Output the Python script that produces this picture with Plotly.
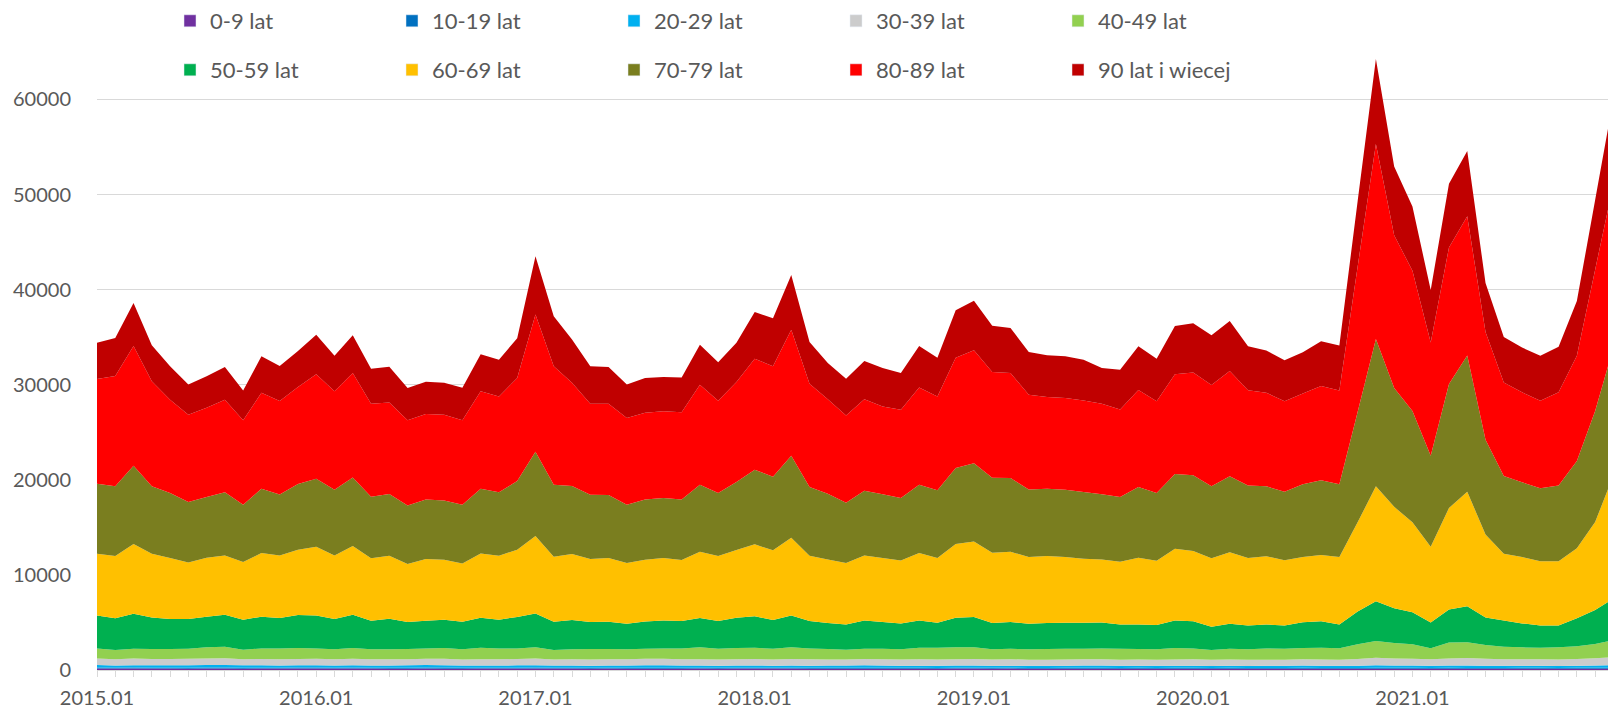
import plotly.graph_objects as go

# ---------------- data ----------------
months = [f"{y}.{m:02d}" for y in range(2015, 2022) for m in range(1, 13)]

names = ["0-9 lat", "10-19 lat", "20-29 lat", "30-39 lat", "40-49 lat",
         "50-59 lat", "60-69 lat", "70-79 lat", "80-89 lat", "90 lat i wiecej"]
colors = ["#7030A0", "#0070C0", "#00B0F0", "#CCCCCC", "#92D050",
          "#00B050", "#FFC000", "#7A7E1F", "#FF0000", "#C00000"]

s0_9 = [170, 155, 160, 150, 145, 140, 150, 145, 140, 150, 145, 155,
        165, 150, 160, 145, 140, 140, 145, 140, 135, 150, 145, 155,
        160, 150, 150, 140, 145, 135, 140, 140, 135, 145, 140, 150,
        155, 145, 150, 140, 135, 130, 140, 135, 130, 140, 135, 145,
        150, 140, 145, 135, 130, 130, 135, 130, 125, 135, 130, 140,
        140, 135, 140, 130, 125, 120, 130, 125, 125, 130, 140, 135,
        135, 130, 135, 130, 125, 125, 130, 125, 120, 130, 135, 140]
s10_19 = [95, 90, 100, 95, 100, 105, 110, 115, 100, 95, 90, 95,
          90, 85, 95, 90, 100, 100, 110, 110, 95, 90, 90, 90,
          95, 90, 90, 85, 95, 100, 105, 105, 95, 90, 85, 90,
          90, 85, 90, 90, 95, 95, 105, 100, 95, 90, 85, 90,
          85, 85, 90, 85, 90, 95, 100, 100, 90, 90, 85, 85,
          90, 80, 85, 85, 90, 95, 100, 95, 90, 90, 100, 95,
          90, 85, 90, 90, 95, 95, 100, 100, 90, 95, 100, 105]
s20_29 = [260, 240, 250, 245, 250, 255, 270, 275, 250, 245, 240, 245,
          250, 235, 245, 240, 245, 250, 265, 260, 240, 240, 235, 245,
          250, 230, 240, 235, 240, 245, 255, 255, 240, 235, 230, 235,
          240, 225, 235, 230, 235, 240, 250, 245, 230, 230, 225, 230,
          230, 220, 225, 220, 225, 230, 240, 240, 225, 225, 220, 225,
          225, 215, 225, 215, 220, 225, 235, 230, 220, 235, 260, 245,
          240, 225, 245, 250, 230, 225, 230, 230, 220, 230, 250, 265]
s30_39 = [680, 650, 690, 660, 660, 670, 690, 700, 650, 660, 650, 670,
          690, 650, 680, 650, 650, 650, 670, 670, 640, 660, 650, 670,
          700, 640, 660, 640, 650, 650, 670, 670, 650, 660, 640, 660,
          680, 650, 670, 660, 650, 640, 660, 650, 640, 660, 650, 670,
          680, 650, 670, 650, 640, 640, 660, 650, 630, 650, 640, 660,
          670, 640, 660, 640, 640, 640, 660, 650, 640, 700, 780, 740,
          720, 680, 750, 780, 720, 690, 680, 680, 680, 700, 760, 820]
s40_49 = [1065, 965, 1040, 1050, 1045, 1070, 1160, 1215, 990, 1120, 1145, 1145,
          1075, 1050, 1130, 1045, 1035, 1060, 1080, 1130, 1060, 1200, 1150, 1110,
          1175, 990, 1030, 1100, 1070, 1040, 1070, 1100, 1150, 1250, 1145, 1175,
          1175, 1135, 1235, 1150, 1085, 1025, 1085, 1110, 1075, 1220, 1245, 1245,
          1235, 1075, 1110, 1080, 1115, 1145, 1105, 1150, 1170, 1100, 1095, 1200,
          1145, 1030, 1130, 1100, 1195, 1160, 1185, 1240, 1205, 1555, 1770, 1625,
          1525, 1160, 1660, 1670, 1450, 1315, 1240, 1205, 1270, 1335, 1485, 1820]
s50_59 = [3470, 3330, 3680, 3330, 3160, 3120, 3220, 3360, 3160, 3330, 3190, 3470,
          3470, 3190, 3500, 3010, 3220, 2840, 2910, 2980, 2910, 3160, 3020, 3300,
          3570, 2980, 3080, 2840, 2880, 2690, 2870, 2940, 2870, 3080, 2900, 3180,
          3300, 3010, 3360, 2870, 2730, 2660, 2970, 2800, 2730, 2870, 2620, 3110,
          3180, 2760, 2800, 2690, 2730, 2720, 2720, 2730, 2550, 2590, 2560, 2900,
          2850, 2460, 2620, 2520, 2510, 2450, 2720, 2780, 2500, 3440, 4180, 3650,
          3350, 2710, 3490, 3790, 2890, 2760, 2520, 2350, 2310, 2940, 3570, 4370]
s60_69 = [6490, 6550, 7320, 6700, 6410, 5950, 6200, 6240, 6060, 6700, 6590, 6870,
          7220, 6690, 7220, 6560, 6630, 6100, 6480, 6300, 6130, 6760, 6730, 7080,
          8130, 6830, 6940, 6620, 6690, 6380, 6480, 6560, 6420, 6970, 6840, 7120,
          7570, 7330, 8170, 6880, 6700, 6450, 6840, 6730, 6620, 7090, 6810, 7750,
          7960, 7400, 7390, 7020, 7050, 6920, 6740, 6630, 6590, 7010, 6760, 7530,
          7400, 7180, 7530, 7100, 7180, 6840, 6840, 6970, 7090, 9380, 12080, 10670,
          9470, 7960, 10660, 12040, 8730, 7010, 6970, 6750, 6750, 7360, 9260, 12920]
s70_79 = [7360, 7330, 8240, 7080, 6830, 6350, 6390, 6630, 6030, 6760, 6410, 6900,
          7150, 6900, 7220, 6480, 6480, 6170, 6280, 6240, 6170, 6800, 6660, 7220,
          8870, 7570, 7150, 6770, 6630, 6140, 6350, 6310, 6380, 7050, 6630, 7150,
          7840, 7740, 8620, 7220, 6910, 6350, 6800, 6700, 6560, 7180, 7120, 7990,
          8230, 7880, 7750, 7110, 7080, 7070, 7010, 6840, 6810, 7440, 7130, 7860,
          7950, 7570, 7990, 7610, 7350, 7220, 7660, 7870, 7660, 11610, 15490, 12480,
          11700, 9590, 13040, 14330, 9980, 8170, 7870, 7660, 7960, 9190, 11680, 13490]
s80_89 = [11010, 11600, 12590, 11040, 9820, 9180, 9390, 9740, 8870, 10100, 9820, 10200,
          10980, 10350, 10980, 9780, 9640, 8940, 8970, 9010, 8870, 10240, 10090, 10830,
          14420, 12450, 10860, 9570, 9600, 9110, 9110, 9140, 9150, 10520, 9690, 10530,
          11690, 11610, 13260, 10860, 9930, 9180, 9620, 9250, 9290, 10220, 9880, 11610,
          11860, 11120, 11050, 9960, 9640, 9650, 9640, 9530, 9210, 10210, 9630, 10500,
          10800, 10670, 11060, 10010, 9850, 9510, 9550, 9910, 9860, 15260, 20500, 16080,
          14750, 11910, 14360, 14620, 11310, 9850, 9460, 9200, 9800, 11070, 14860, 17170]
s90_plus = [3820, 4000, 4530, 3790, 3510, 3190, 3300, 3440, 3150, 3820, 3680, 3790,
            4170, 3750, 3960, 3680, 3750, 3400, 3410, 3370, 3430, 3890, 3860, 4180,
            6140, 5260, 4540, 3930, 3860, 3540, 3650, 3590, 3680, 4210, 4050, 4130,
            4910, 5050, 5750, 4390, 3810, 3860, 4020, 4030, 3860, 4370, 4070, 4980,
            5230, 4880, 4730, 4490, 4390, 4380, 4280, 3750, 4180, 4580, 4470, 5070,
            5180, 5220, 5260, 4620, 4440, 4300, 4330, 4710, 4730, 6900, 8940, 7230,
            6750, 5510, 6710, 6880, 5160, 4770, 4700, 4750, 4800, 5750, 7320, 8960]

series = [s0_9, s10_19, s20_29, s30_39, s40_49, s50_59, s60_69, s70_79, s80_89, s90_plus]

y_ticks = [0, 10000, 20000, 30000, 40000, 50000, 60000]
x_tick_labels = months[::12]

# ---------------- figure ----------------
W, H = 1608, 711
ML, MR, MT, MB = 97, 0, 42, 41
FONT = "Lato, 'Open Sans', Arial, sans-serif"
TXT = "#595959"
GRID = "#D9D9D9"

x_idx = list(range(len(months)))
fig = go.Figure()

for name, col, vals in zip(names, colors, series):
    fig.add_trace(go.Scatter(
        x=x_idx, y=vals, name=name, stackgroup="one", mode="none",
        fillcolor=col, showlegend=False, text=months,
        hovertemplate="%{text}<br>" + name + ": %{y}<extra></extra>"))

# legend entries (square swatches), two rows
for i, (name, col) in enumerate(zip(names, colors)):
    fig.add_trace(go.Bar(x=[None], y=[None], name=name, marker_color=col,
                         showlegend=True, legend="legend" if i < 5 else "legend2"))

plot_w = W - ML - MR
plot_h = H - MT - MB
px_per_month = 18.27
x_max = plot_w / px_per_month
y_max = 10000 * plot_h / 95.1


def py(px_from_top):
    return 1 + (MT - px_from_top) / plot_h


leg_left = (170 - ML) / plot_w
leg_common = dict(orientation="h", xanchor="left", yanchor="middle", traceorder="normal",
                  bgcolor="rgba(0,0,0,0)", font=dict(family=FONT, size=22, color=TXT),
                  entrywidth=177, entrywidthmode="pixels", itemclick=False)

fig.update_layout(
    width=W, height=H,
    margin=dict(l=ML, r=MR, t=MT, b=MB, autoexpand=False),
    paper_bgcolor="white", plot_bgcolor="white",
    font=dict(family=FONT, size=20, color=TXT),
    legend=dict(x=leg_left, y=py(21), **leg_common),
    legend2=dict(x=leg_left, y=py(70), **leg_common),
    xaxis=dict(
        range=[0, x_max], tickmode="array", tickvals=x_idx[::12], ticktext=x_tick_labels,
        showgrid=False, zeroline=False, showline=True, linecolor=GRID, linewidth=1.3,
        ticks="outside", ticklen=6, tickcolor=GRID, tickwidth=1.3,
        minor=dict(tickmode="array", tickvals=x_idx, ticks="outside", ticklen=6,
                   tickcolor=GRID, tickwidth=1.3),
        tickfont=dict(family=FONT, size=20, color=TXT), ticklabelstandoff=4,
    ),
    yaxis=dict(
        range=[0, y_max], tickmode="array", tickvals=y_ticks, ticktext=[str(v) for v in y_ticks],
        showgrid=True, gridcolor=GRID, gridwidth=1.3, zeroline=False, showline=False,
        ticks="", tickfont=dict(family=FONT, size=20, color=TXT), ticklabelstandoff=25,
    ),
)

fig.write_html("out.html", config={"displayModeBar": False},
               post_script="document.body.style.margin='0';document.body.style.overflow='hidden';")
